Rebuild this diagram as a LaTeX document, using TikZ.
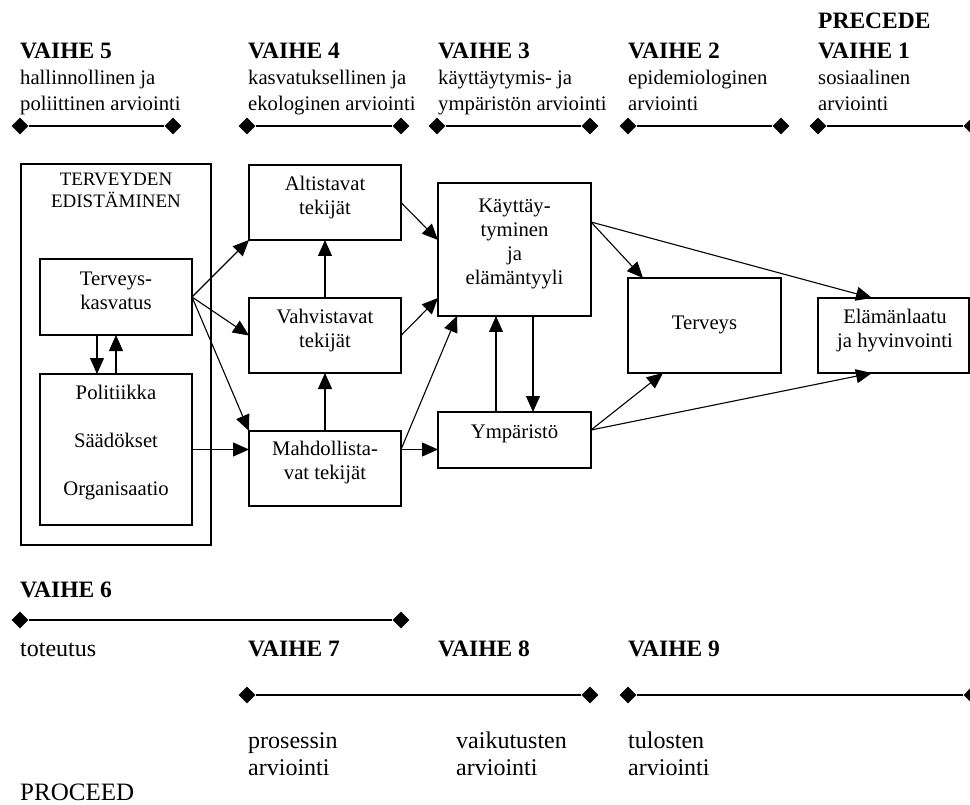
\documentclass[tikz,border=0pt]{standalone}
\usepackage{fontspec}
\setmainfont{Liberation Serif}
\usetikzlibrary{arrows.meta,shapes.geometric,calc}
\newcommand\mystrut{\rule[-6pt]{0pt}{21pt}}
\begin{document}
\begin{tikzpicture}[x=1pt,y=-1pt,
  box/.style={draw, line width=1.3pt, inner sep=0pt, outer sep=0pt},
  txt/.style={inner sep=0pt, align=center, font=\fontsize{20.7}{24}\selectfont\mystrut},
  arr/.style={line width=1.1pt, -{Triangle[length=16pt,width=14pt]}},
  dia/.style={diamond, fill=black, inner sep=0pt, minimum width=17pt, minimum height=17pt},
  tl/.style={line width=1.8pt},
  hd/.style={inner sep=0pt, anchor=base west, font=\fontsize{23.5}{28}\selectfont\bfseries},
  ds/.style={inner sep=0pt, anchor=west, align=left, font=\fontsize{20.7}{26}\selectfont\mystrut},
  bds/.style={inner sep=0pt, anchor=base west, font=\fontsize{24}{27}\selectfont},
  bds2/.style={inner sep=0pt, anchor=west, align=left, font=\fontsize{24}{27}\selectfont\mystrut},
]
\useasboundingbox (0,0) rectangle (970,805);

% ---------- top phases ----------
\node[hd] (prec) at (818,29) {PRECEDE};
\node[hd] (v5) at (20,59) {VAIHE 5};
\node[hd] (v4) at (248,59) {VAIHE 4};
\node[hd] (v3) at (438,59) {VAIHE 3};
\node[hd] (v2) at (628,59) {VAIHE 2};
\node[hd] (v1) at (818,59) {VAIHE 1};
\node[ds] (t5) at (20,93.5) {hallinnollinen ja\\poliittinen arviointi};
\node[ds] (t4) at (248,93.5) {kasvatuksellinen ja\\ekologinen arviointi};
\node[ds] (t3) at (438,93.5) {käyttäytymis- ja\\ympäristön arviointi};
\node[ds] (t2) at (628,93.5) {epidemiologinen\\arviointi};
\node[ds] (t1) at (818,93.5) {sosiaalinen\\arviointi};

\node[dia] (d5a) at (20,126) {};  \node[dia] (d5b) at (173,126) {};
\node[dia] (d4a) at (247,126) {}; \node[dia] (d4b) at (401,126) {};
\node[dia] (d3a) at (437,126) {}; \node[dia] (d3b) at (590,126) {};
\node[dia] (d2a) at (628,126) {}; \node[dia] (d2b) at (781,126) {};
\node[dia] (d1a) at (818,126) {}; \node[dia] (d1b) at (972,126) {};
\draw[tl] (d5a) -- (d5b);
\draw[tl] (d4a) -- (d4b);
\draw[tl] (d3a) -- (d3b);
\draw[tl] (d2a) -- (d2b);
\draw[tl] (d1a) -- (d1b);

% ---------- boxes ----------
\node[box, minimum width=190pt, minimum height=381pt] (ted) at (116,354.5) {};
\node[box, minimum width=152pt, minimum height=76pt] (tk) at (116,297) {};
\node[box, minimum width=152pt, minimum height=151pt] (pol) at (116,449.5) {};
\node[box, minimum width=152pt, minimum height=75pt] (alt) at (325,202.5) {};
\node[box, minimum width=152pt, minimum height=75pt] (vah) at (325,335.5) {};
\node[box, minimum width=152pt, minimum height=75pt] (mah) at (325,468.5) {};
\node[box, minimum width=153pt, minimum height=133pt] (kay) at (514.5,249.5) {};
\node[box, minimum width=153pt, minimum height=56pt] (ymp) at (514.5,440) {};
\node[box, minimum width=153pt, minimum height=95pt] (hlth) at (704.5,325.5) {};
\node[box, minimum width=151pt, minimum height=75pt] (ela) at (893.5,335.5) {};

% ---------- box texts ----------
\node[txt, font=\fontsize{19}{22}\selectfont\mystrut] (tedt) at (116,193) {TERVEYDEN\\EDISTÄMINEN};
\node[txt] (tkt) at (116,293.5) {Terveys-\\kasvatus};
\node[txt, font=\fontsize{20.7}{48}\selectfont\mystrut] (polt) at (116,443) {Politiikka\\Säädökset\\Organisaatio};
\node[txt] (altt) at (325,198) {Altistavat\\tekijät};
\node[txt] (vaht) at (325,331) {Vahvistavat\\tekijät};
\node[txt] (maht) at (325,463.5) {Mahdollista-\\vat tekijät};
\node[txt] (kayt) at (514.5,245) {Käyttäy-\\tyminen\\ja\\elämäntyyli};
\node[txt] (ympt) at (514.5,434) {Ympäristö};
\node[txt] (hltht) at (704.5,325) {Terveys};
\node[txt] (elat) at (895,331.5) {Elämänlaatu\\ja hyvinvointi};

% ---------- connectors ----------
\draw[arr] (tk.east) -- (alt.south west);
\draw[arr] (tk.east) -- (vah.west);
\draw[arr] (tk.east) -- (mah.north west);
\draw[arr] ([xshift=-19pt]tk.south) -- ([xshift=-19pt]pol.north);
\draw[arr] (pol.north) -- (tk.south);
\draw[arr] (pol.east) -- (pol.east -| mah.west);
\draw[arr] (vah.north) -- (alt.south);
\draw[arr] (mah.north) -- (vah.south);
\draw[arr] (alt.east) -- ([yshift=9.5pt]kay.west);
\draw[arr] (vah.east) -- ([yshift=18pt]kay.south west);
\coordinate (mr) at (mah.east |- pol.east);
\draw[arr] (mr) -- ([xshift=19pt]kay.south west);
\draw[arr] (mr) -- (pol.east -| ymp.west);
\draw[arr] ([xshift=18.5pt]kay.south) -- ([xshift=18.5pt]ymp.north);
\draw[arr] ([xshift=-18.5pt]ymp.north) -- ([xshift=-18.5pt]kay.south);
\coordinate (kr) at ([yshift=-39pt]kay.north east);
\draw[arr] (kr) -- ([xshift=15pt]hlth.north west);
\draw[arr] (kr) -- ([xshift=54pt]ela.north west);
\coordinate (yr) at ([yshift=10pt]ymp.east);
\draw[arr] (yr) -- ([xshift=35pt]hlth.south west);
\draw[arr] (yr) -- ([xshift=54pt]ela.south west);

% ---------- bottom phases ----------
\node[hd] (v6) at (20,597) {VAIHE 6};
\node[dia] (d6a) at (20,620) {}; \node[dia] (d6b) at (401,620) {};
\draw[tl] (d6a) -- (d6b);
\node[bds] (tot) at (20,656) {toteutus};
\node[hd] (v7) at (248,656) {VAIHE 7};
\node[hd] (v8) at (438,656) {VAIHE 8};
\node[hd] (v9) at (628,656) {VAIHE 9};
\node[dia] (d7a) at (247,695) {}; \node[dia] (d8b) at (590,695) {};
\node[dia] (d9a) at (628,695) {}; \node[dia] (d9b) at (972,695) {};
\draw[tl] (d7a) -- (d8b);
\draw[tl] (d9a) -- (d9b);
\node[bds2] (pros) at (248,757) {prosessin\\arviointi};
\node[bds2] (vaik) at (456,757) {vaikutusten\\arviointi};
\node[bds2] (tul) at (628,757) {tulosten\\arviointi};
\node[bds, font=\fontsize{25}{28}\selectfont] (proc) at (20,800) {PROCEED};
\end{tikzpicture}
\end{document}
